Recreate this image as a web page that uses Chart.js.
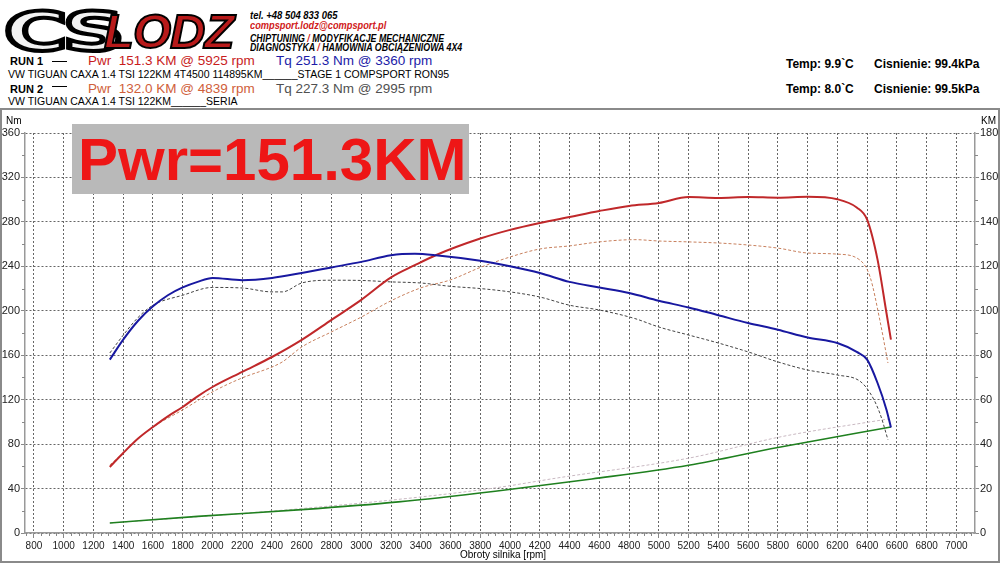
<!DOCTYPE html>
<html>
<head>
<meta charset="utf-8">
<script src="https://cdn.jsdelivr.net/npm/chart.js@4.4.1/dist/chart.umd.min.js"></script>
<style>
body{margin:0;width:1000px;height:563px;background:#fff;font-family:Arial,"Liberation Sans",sans-serif;position:relative;overflow:hidden}
.t{position:absolute;white-space:nowrap;line-height:1}
#frame{position:absolute;left:0;top:108px;width:996px;height:451px;border:2px solid #8a8a8a}
#wrap{position:absolute;left:0;top:110px;width:1000px;height:453px}
#big{position:absolute;left:72px;top:124px;width:397px;height:70px;background:#b9b9b9;color:#ee1616;font:bold 60px Arial,"Liberation Sans",sans-serif;line-height:72px;text-indent:6px}
.hd{font-weight:bold;font-style:italic;font-size:10.5px;transform-origin:left top}
</style>
</head>
<body>
<div class="t" style="left:4px;top:0px;font:bold 54px 'DejaVu Sans',sans-serif;color:#f2f2f2;-webkit-text-stroke:4px #000;transform:scaleX(1.6);transform-origin:left top;letter-spacing:-4px">CS</div>
<div class="t" style="left:104px;top:3px;font:bold italic 49px Arial,sans-serif;color:#b81a1a;-webkit-text-stroke:2px #000;letter-spacing:-1px">LODZ</div>
<div class="t hd" style="left:250px;top:10px;transform:scaleX(0.9)">tel. +48 504 833 065</div>
<div class="t hd" style="left:250px;top:20px;color:#d02020;transform:scaleX(0.88)">compsport.lodz@compsport.pl</div>
<div class="t hd" style="left:250px;top:33px;transform:scaleX(0.84)">CHIPTUNING <span style="color:#d02020">/</span> MODYFIKACJE MECHANICZNE</div>
<div class="t hd" style="left:250px;top:42px;transform:scaleX(0.84)">DIAGNOSTYKA <span style="color:#d02020">/</span> HAMOWNIA OBCIĄŻENIOWA 4X4</div>

<div class="t" style="left:10px;top:56px;font-weight:bold;font-size:11px">RUN 1</div>
<div class="t" style="left:52px;top:61px;width:15px;height:1px;background:#000"></div>
<div class="t" style="left:88px;top:54px;font-size:13.5px;color:#c81c1c">Pwr&nbsp; 151.3 KM @ 5925 rpm</div>
<div class="t" style="left:276px;top:54px;font-size:13.5px;color:#1c1ca8">Tq 251.3 Nm @ 3360 rpm</div>
<div class="t" style="left:8px;top:69px;font-size:10.5px">VW TIGUAN CAXA 1.4 TSI 122KM 4T4500 114895KM______STAGE 1 COMPSPORT RON95</div>
<div class="t" style="left:10px;top:84px;font-weight:bold;font-size:11px">RUN 2</div>
<div class="t" style="left:52px;top:86px;width:15px;height:1px;background:#000"></div>
<div class="t" style="left:88px;top:82px;font-size:13.5px;color:#d0603a">Pwr&nbsp; 132.0 KM @ 4839 rpm</div>
<div class="t" style="left:276px;top:82px;font-size:13.5px;color:#505050">Tq 227.3 Nm @ 2995 rpm</div>
<div class="t" style="left:8px;top:96px;font-size:10.5px">VW TIGUAN CAXA 1.4 TSI 122KM______SERIA</div>

<div class="t" style="left:786px;top:58px;font-weight:bold;font-size:12px">Temp: 9.9`C</div>
<div class="t" style="left:874px;top:58px;font-weight:bold;font-size:12px">Cisnienie: 99.4kPa</div>
<div class="t" style="left:786px;top:83px;font-weight:bold;font-size:12px">Temp: 8.0`C</div>
<div class="t" style="left:874px;top:83px;font-weight:bold;font-size:12px">Cisnienie: 99.5kPa</div>

<div id="frame"></div>
<div id="wrap"><canvas id="dyno"></canvas></div>
<div class="t" style="left:6px;top:116px;font-size:10px">Nm</div>
<div class="t" style="left:981px;top:116px;font-size:10px">KM</div>
<div class="t" style="left:460px;top:550px;font-size:10px">Obroty silnika [rpm]</div>
<div id="big">Pwr=151.3KM</div>

<script>
let rpmTicks =[800,1000,1200,1400,1600,1800,2000,2200,2400,2600,2800,3000,3200,3400,3600,3800,4000,4200,4400,4600,4800,5000,5200,5400,5600,5800,6000,6200,6400,6600,6800,7000]
let nmTicks =[0,40,80,120,160,200,240,280,320,360]
let kmTicks =[0,20,40,60,80,100,120,140,160,180]

// run 1 (stage 1)
let rpm1 =[1310,1400,1500,1600,1700,1800,1900,2000,2200,2400,2600,2800,3000,3200,3360,3500,3800,4000,4200,4400,4600,4800,5000,5200,5400,5600,5800,6000,6200,6330,6400,6470,6530,6560]
let tq1 =[156,174,191,204,214,221,226,229.5,227.5,229.5,234,239,244,250,251.3,250,245,240,234,226,221,216,209,203,196,189,183,176,171,163,156,135,111,95]
let pwr1 =[29.7,36,42.5,47.7,52.5,56.7,61.5,65.7,72.5,79.2,86.9,95.9,104.9,115,120.5,125,132.5,136.4,139.5,142.2,144.9,147.2,148.5,151.2,150.8,151.2,150.9,151.3,150.2,146.5,141,123,99,87]

// run 2 (seria)
let rpm2 =[1310,1400,1500,1600,1800,2000,2200,2400,2470,2600,2800,2995,3200,3400,3600,3800,4000,4200,4400,4600,4839,5000,5200,5400,5600,5800,6000,6200,6350,6420,6485,6540]
let tq2 =[162,178,194,205,214,221,220.5,217,217,225,227.5,227.3,226,225,222,220,217,212.4,205,200.7,193,185.4,178.2,171,163,154,146.7,142.2,136.8,126,108,84]
let pwr2 =[30.6,36,42.5,47.7,55.4,63.5,69.8,74.7,77,83.7,90.5,97,104.5,110.3,113.9,119.5,124.2,127.8,129.2,131,132,131.4,131,130.5,129.6,128.2,126,125.5,122.9,115.2,95.9,76.5]

// losses
let lossRpm1 =[1310,1900,2600,3250,3900,4550,5200,5800,6560]
let loss1 =[4.5,7.5,10.5,14,18.8,24.3,30.5,38.5,47.7]
let lossRpm2 =[1310,2000,2600,3300,3900,4321,5210,5813,6540]
let loss2 =[4.5,7.8,11,15.5,20.3,24.8,33.8,43.2,51.3]

function pts(xs,ys){return xs.map((x,i)=>({x:x,y:ys[i]}))}

Chart.defaults.font.family='Arial, "Liberation Sans", sans-serif'
Chart.defaults.font.size=11
Chart.defaults.color='#222'

let minorTicks={
  id:'minorTicks',
  afterDraw(c){
    let ctx=c.ctx, x=c.scales.x, y=c.scales.y, y1=c.scales.y1, a=c.chartArea
    ctx.save()
    ctx.strokeStyle='#888'
    ctx.lineWidth=1
    ctx.beginPath()
    for(let v=750;v<=7100;v+=50){
      if(v%200===0) continue
      let px=Math.round(x.getPixelForValue(v))+0.5
      ctx.moveTo(px,a.bottom);ctx.lineTo(px,a.bottom+3)
    }
    for(let v=20;v<360;v+=40){
      let py=Math.round(y.getPixelForValue(v))+0.5
      ctx.moveTo(a.left-3,py);ctx.lineTo(a.left,py)
    }
    for(let v=10;v<180;v+=20){
      let py=Math.round(y1.getPixelForValue(v))+0.5
      ctx.moveTo(a.right,py);ctx.lineTo(a.right+3,py)
    }
    ctx.stroke()
    ctx.restore()
  }
}

let line=(data,axis,color,width,dash)=>({
  data:data,yAxisID:axis,borderColor:color,borderWidth:width,borderDash:dash||[],
  pointRadius:0,fill:false,tension:0.4,cubicInterpolationMode:'monotone'
})

let chart=new Chart(document.getElementById('dyno').getContext('2d'),{
  type:'line',
  data:{datasets:[
    line(pts(rpm1,tq1),'y','#1818a0',2),
    line(pts(rpm1,pwr1),'y1','#c0282a',2),
    line(pts(lossRpm1,loss1),'y1','#1f801f',1.6),
    line(pts(rpm2,tq2),'y','#444',1,[3,2]),
    line(pts(rpm2,pwr2),'y1','#c8805e',1,[3,2]),
    line(pts(lossRpm2,loss2),'y1','#c9b9c2',1,[3,2])
  ]},
  options:{
    responsive:true,maintainAspectRatio:false,animation:false,
    layout:{padding:{top:23,left:0,right:0,bottom:0}},
    plugins:{legend:{display:false},tooltip:{enabled:false}},
    scales:{
      x:{type:'linear',min:740,max:7125,
        afterBuildTicks:s=>{s.ticks=rpmTicks.map(v=>({value:v}))},
        afterFit:s=>{s.height=30},
        ticks:{padding:2,maxRotation:0,autoSkip:false,font:{size:10},callback:v=>String(v)},
        grid:{color:'#666',tickLength:5,tickColor:'#888'},
        border:{color:'#999',width:1.5,dash:[2,2]}},
      y:{position:'left',min:0,max:360,
        afterBuildTicks:s=>{s.ticks=nmTicks.map(v=>({value:v}))},
        afterFit:s=>{s.width=25},
        ticks:{padding:1},
        grid:{color:'#666',tickLength:4,tickColor:'#888'},
        border:{color:'#999',width:1.5,dash:[2,2]}},
      y1:{position:'right',min:0,max:180,
        afterBuildTicks:s=>{s.ticks=kmTicks.map(v=>({value:v}))},
        afterFit:s=>{s.width=25},
        ticks:{padding:1},
        grid:{drawOnChartArea:false,tickLength:4,tickColor:'#888'},
        border:{color:'#999',width:1.5}}
    }
  },
  plugins:[minorTicks]
})
</script>
</body>
</html>
